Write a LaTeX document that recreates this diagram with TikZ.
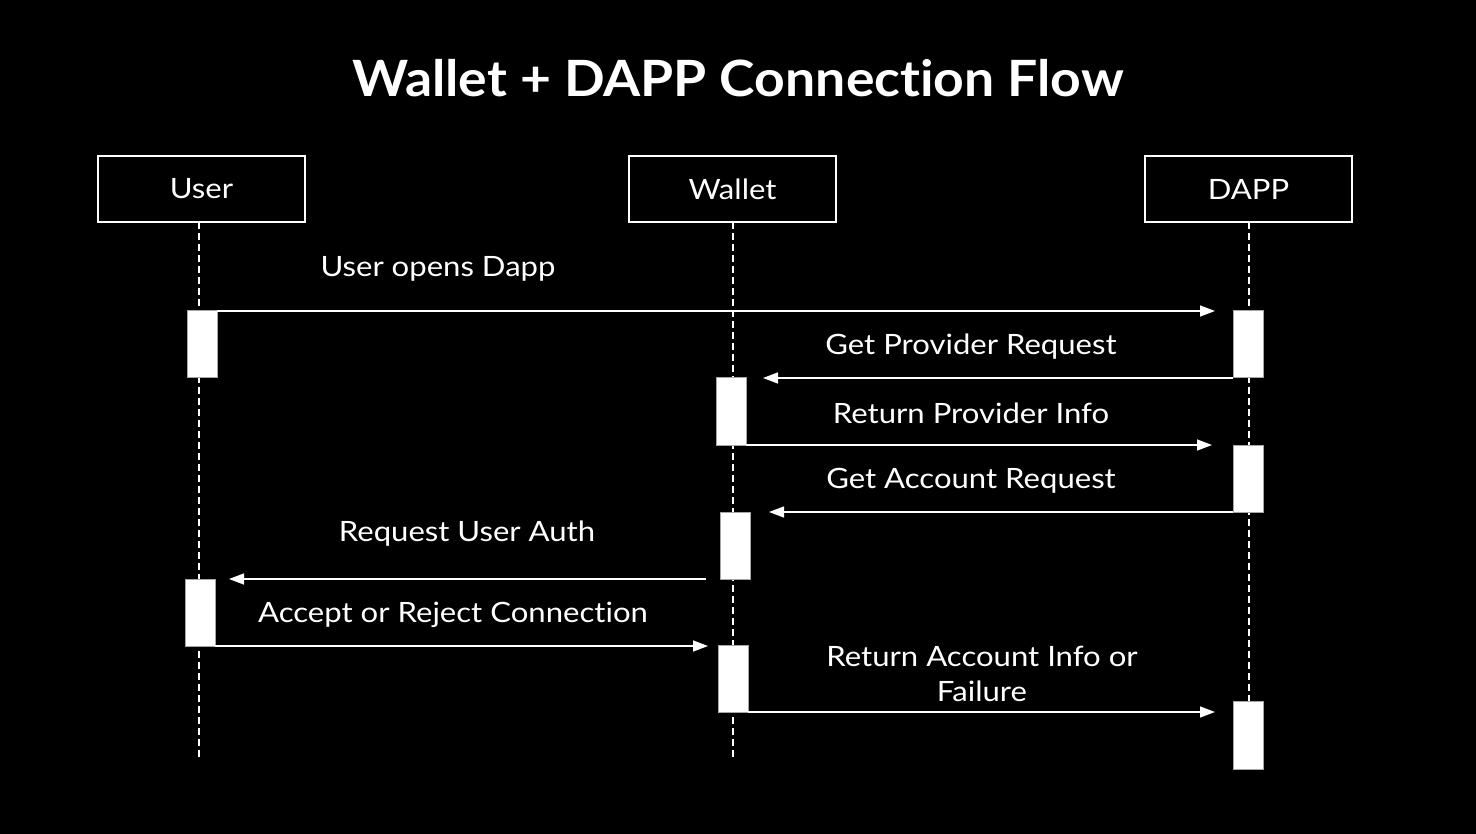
\documentclass[tikz,border=0pt]{standalone}
\usepackage{fontspec}
\setmainfont{Lato}[Ligatures=NoCommon]
\newfontfamily\lblfont{Lato}[FakeStretch=1.11,Ligatures=NoCommon]
\newfontfamily\ttlfont{Lato}[FakeStretch=1.07,Ligatures=NoCommon]
\usetikzlibrary{arrows.meta}
\begin{document}
\begin{tikzpicture}[x=1pt,y=-1pt,
  actor/.style={draw=white,line width=1.3pt,minimum width=207pt,minimum height=66pt,inner sep=0pt,outer sep=0pt,text=white,font=\lblfont\fontsize{28}{32}\selectfont},
  act/.style={draw=gray!70,fill=white,line width=1pt,minimum width=30pt,minimum height=67pt,inner sep=0pt,outer sep=0pt},
  life/.style={draw=white,line width=1.2pt,dash pattern=on 7pt off 4pt},
  msg/.style={draw=white,line width=1.4pt,-{Triangle[length=15pt,width=11pt]}},
  lbl/.style={text=white,font=\lblfont\fontsize{28}{35}\selectfont,align=center,inner sep=0pt}]
\fill[black] (0,0) rectangle (1476,834);
\useasboundingbox (0,0) rectangle (1476,834);
\node[text=white,font=\ttlfont\fontsize{50}{60}\selectfont\bfseries] (title) at (738,78) {Wallet + DAPP Connection Flow};
\node[actor] (user) at (201.5,189) {User};
\node[actor] (wallet) at (732.5,189) {Wallet};
\node[actor] (dapp) at (1248.5,189) {DAPP};
\coordinate (uend) at (199,757);
\coordinate (wend) at (733,757);
\coordinate (dend) at (1249,757);
\draw[life] (user.south -| uend) -- (uend);
\draw[life] (wallet.south -| wend) -- (wend);
\draw[life] (dapp.south -| dend) -- (dend);
\node[act] (b1) at (202,344.5) {};
\node[act] (b2) at (1248,344.5) {};
\node[act] (b3) at (731,411.5) {};
\node[act] (b4) at (1248,478.5) {};
\node[act] (b5) at (735,545.5) {};
\node[act] (b6) at (200,612.5) {};
\node[act] (b7) at (733,678.5) {};
\node[act,minimum height=68pt] (b8) at (1248,735) {};
\draw[msg,shorten >=18pt] (b1.north east) -- (b2.north west);
\draw[msg,shorten >=17pt] (b2.south west) -- (b3.north east);
\draw[msg,shorten >=21pt] (b3.south east) -- (b4.north west);
\draw[msg,shorten >=19pt] (b4.south west) -- (b5.north east);
\draw[msg,shorten <=14pt,shorten >=14pt] (b5.south west) -- (b6.north east);
\draw[msg,shorten >=10pt] (b6.south east) -- (b6.south east -| b7.west);
\draw[msg,shorten >=18pt] (b7.south east) -- (b7.south east -| b8.west);
\node[lbl] (l1) at (438,269) {User opens Dapp};
\node[lbl] (l2) at (971,347) {Get Provider Request};
\node[lbl] (l3) at (971,413) {Return Provider Info};
\node[lbl] (l4) at (971,481) {Get Account Request};
\node[lbl] (l5) at (467,534) {Request User Auth};
\node[lbl] (l6) at (453,615) {Accept or Reject Connection};
\node[lbl] (l7) at (982,674) {Return Account Info or\\Failure};
\end{tikzpicture}
\end{document}
